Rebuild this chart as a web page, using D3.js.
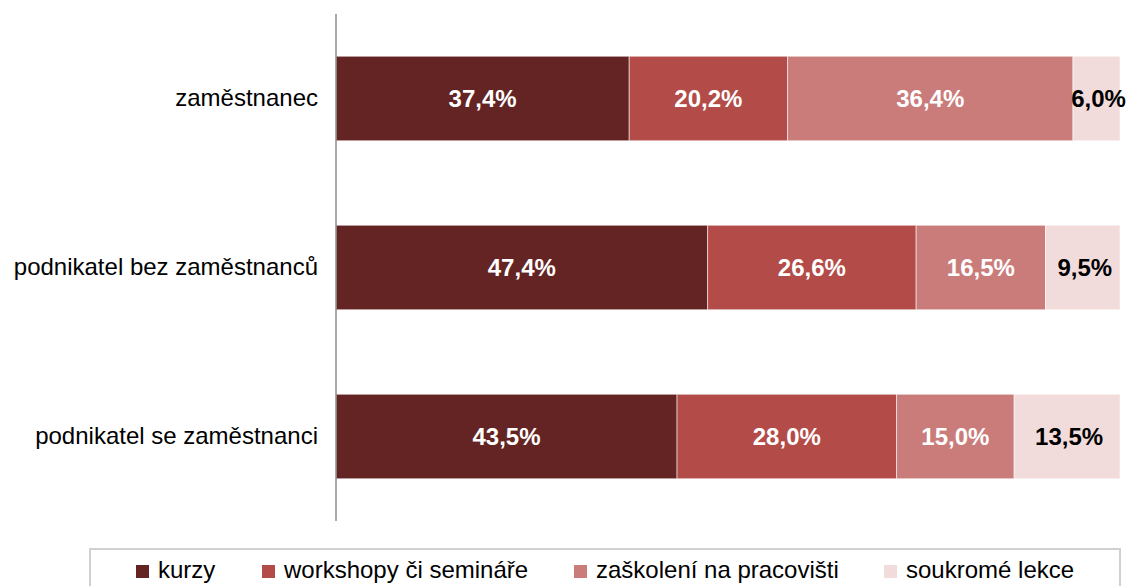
<!DOCTYPE html>
<html>
<head>
<meta charset="utf-8">
<script src="https://cdn.jsdelivr.net/npm/d3@7"></script>
<style>
  html, body { margin: 0; padding: 0; background: #fff; }
  svg { display: block; font-family: "Liberation Sans", Arial, sans-serif; }
</style>
</head>
<body>
<script>
const categories = ["zaměstnanec", "podnikatel bez zaměstnanců", "podnikatel se zaměstnanci"];
const seriesNames = ["kurzy", "workshopy či semináře", "zaškolení na pracovišti", "soukromé lekce"];
const kurzy = [37.4, 47.4, 43.5];
const workshopy = [20.2, 26.6, 28.0];
const zaskoleni = [36.4, 16.5, 15.0];
const soukrome = [6.0, 9.5, 13.5];
const colors = ["#632423", "#b34b48", "#ca7c7b", "#f2dcdb"];

const W = 1127, H = 586;
const margin = { top: 14, right: 7, bottom: 65, left: 336 };

const svg = d3.select("body").append("svg").attr("width", W).attr("height", H);

const x = d3.scaleLinear().domain([0, 100]).range([margin.left, W - margin.right]);
const y = d3.scaleBand().domain(categories).range([margin.top, H - margin.bottom]).paddingInner(0.5).paddingOuter(0.25);

const rows = categories.map((c, i) => ({ cat: c, vals: [kurzy[i], workshopy[i], zaskoleni[i], soukrome[i]] }));
const stack = d3.stack().keys([0, 1, 2, 3]).value((d, k) => d.vals[k]);
const layers = stack(rows);

const fmt = v => v.toFixed(1).replace(".", ",") + "%";

layers.forEach((layer, k) => {
  const g = svg.append("g");
  g.selectAll("rect").data(layer).join("rect")
    .attr("x", d => x(d[0]))
    .attr("y", d => y(d.data.cat))
    .attr("width", d => x(d[1]) - x(d[0]))
    .attr("height", y.bandwidth())
    .attr("fill", colors[k])
    .attr("stroke", "rgba(255,255,255,0.55)")
    .attr("stroke-width", 1);
  g.selectAll("text").data(layer).join("text")
    .attr("x", d => (x(d[0]) + x(d[1])) / 2 + (k === 3 ? 2 : 0))
    .attr("y", d => y(d.data.cat) + y.bandwidth() / 2)
    .attr("dy", "0.36em")
    .attr("text-anchor", "middle")
    .attr("font-size", 24)
    .attr("font-weight", "bold")
    .attr("fill", k === 3 ? "#000" : "#fff")
    .text(d => fmt(d[1] - d[0]));
});

// category axis
const yAxis = svg.append("g").attr("transform", `translate(${margin.left},0)`)
  .call(d3.axisLeft(y).tickSize(0).tickPadding(18));
yAxis.select(".domain").remove();
yAxis.selectAll("text").attr("font-size", 24).attr("fill", "#000")
  .attr("font-family", "'Liberation Sans', Arial, sans-serif");

svg.append("line")
  .attr("x1", margin.left).attr("x2", margin.left)
  .attr("y1", margin.top).attr("y2", 521)
  .attr("stroke", "#8c8c8c").attr("stroke-width", 1.5);

// legend
const legend = svg.append("g");
legend.append("rect")
  .attr("x", 90).attr("y", 549).attr("width", 1030).attr("height", 50)
  .attr("fill", "#fff").attr("stroke", "#d0d0d0").attr("stroke-width", 2);

const legendX = [136, 262, 574, 884];
seriesNames.forEach((name, k) => {
  legend.append("rect")
    .attr("x", legendX[k]).attr("y", 565).attr("width", 13).attr("height", 13)
    .attr("fill", colors[k]);
  legend.append("text")
    .attr("x", legendX[k] + 22).attr("y", 578)
    .attr("font-size", 24).attr("fill", "#000")
    .text(name);
});
</script>
</body>
</html>
